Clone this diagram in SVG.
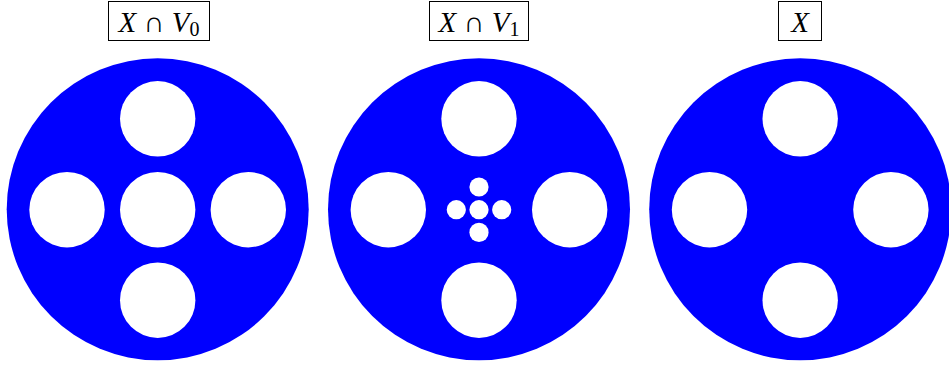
<svg xmlns="http://www.w3.org/2000/svg" width="949" height="367" viewBox="0 0 949 367">
<style>
.disk{fill:#0000ff}
.hole{fill:#ffffff}
.box{fill:#ffffff;stroke:#000000;stroke-width:1}
.lbl{font-family:"Liberation Serif",serif;font-size:29px;fill:#000}
.it{font-style:italic}
.sub{font-size:20px}
</style>
<g id="panel0">
<circle class="disk" cx="157.7" cy="209.3" r="151"/>
<circle class="hole" cx="157.7" cy="118.8" r="37.7"/>
<circle class="hole" cx="157.7" cy="209.7" r="37.7"/>
<circle class="hole" cx="157.7" cy="300.2" r="37.7"/>
<circle class="hole" cx="67" cy="209.7" r="37.7"/>
<circle class="hole" cx="248.3" cy="209.7" r="37.7"/>
</g>
<g id="panel1">
<circle class="disk" cx="479" cy="209.3" r="151"/>
<circle class="hole" cx="479" cy="118.8" r="37.7"/>
<circle class="hole" cx="479" cy="300.2" r="37.7"/>
<circle class="hole" cx="388.3" cy="209.7" r="37.7"/>
<circle class="hole" cx="569.7" cy="209.7" r="37.7"/>
<circle class="hole" cx="479" cy="209.7" r="9.6"/>
<circle class="hole" cx="479" cy="187" r="9.6"/>
<circle class="hole" cx="479" cy="232.4" r="9.6"/>
<circle class="hole" cx="456.3" cy="209.7" r="9.6"/>
<circle class="hole" cx="501.7" cy="209.7" r="9.6"/>
</g>
<g id="panel2">
<circle class="disk" cx="800.2" cy="209.3" r="151"/>
<circle class="hole" cx="800.2" cy="118.8" r="37.7"/>
<circle class="hole" cx="800.2" cy="300.2" r="37.7"/>
<circle class="hole" cx="709.5" cy="209.7" r="37.7"/>
<circle class="hole" cx="890.9" cy="209.7" r="37.7"/>
</g>
<g id="label0">
<rect class="box" x="108.5" y="1.5" width="101" height="39"/>
<text class="lbl" x="159" y="32" text-anchor="middle"><tspan class="it">X</tspan> ∩ <tspan class="it">V</tspan><tspan class="sub" dy="4">0</tspan></text>
</g>
<g id="label1">
<rect class="box" x="429.5" y="1.5" width="99" height="39"/>
<text class="lbl" x="479" y="32" text-anchor="middle"><tspan class="it">X</tspan> ∩ <tspan class="it">V</tspan><tspan class="sub" dy="4">1</tspan></text>
</g>
<g id="label2">
<rect class="box" x="778.5" y="1.5" width="43" height="39"/>
<text class="lbl it" x="800" y="32" text-anchor="middle">X</text>
</g>
</svg>
